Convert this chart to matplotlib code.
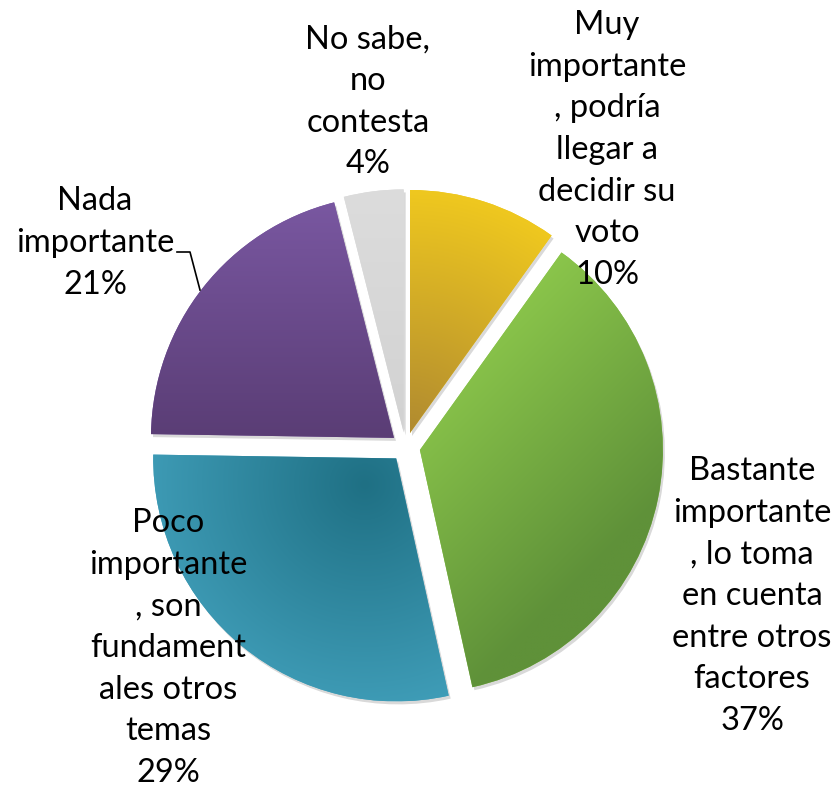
import numpy as np
import matplotlib.pyplot as plt
import matplotlib.patches as mpatches
from matplotlib.colors import to_rgb

# slices, clockwise from 12 o'clock
labels = [
    "Muy\nimportante\n, podría\nllegar a\ndecidir su\nvoto",
    "Bastante\nimportante\n, lo toma\nen cuenta\nentre otros\nfactores",
    "Poco\nimportante\n, son\nfundament\nales otros\ntemas",
    "Nada\nimportante",
    "No sabe,\nno\ncontesta",
]
values = [10, 37, 29, 21, 4]
pct_labels = ["10%", "37%", "29%", "21%", "4%"]

# (light, dark) colour pairs and gradient kind for each slice
light = ["#EFC81F", "#8BC64B", "#45A5C1", "#7A58A2", "#DCDCDC"]
dark = ["#B08A30", "#5F9139", "#1F7084", "#5A3D75", "#D2D2D2"]
grad_kind = ["radial_apex", "diagonal", "radial_spot", "vertical", "vertical"]

W, H = 837, 792
fig = plt.figure(figsize=(W / 100, H / 100), dpi=100)
ax = fig.add_axes([0, 0, 1, 1])

radius = 243
center = (405.5, H - 447)
wedges, _ = ax.pie(values, startangle=90, counterclock=False,
                   radius=radius, center=center, explode=[14.7] * len(values),
                   colors=light, wedgeprops=dict(linewidth=0))
ax.set_xlim(0, W)
ax.set_ylim(0, H)
ax.set_aspect("equal")
ax.axis("off")


def gradient_image(w, kind, c_light, c_dark, n=400):
    cx, cy = w.center
    r = w.r
    xs = np.linspace(cx - r, cx + r, n)
    ys = np.linspace(cy - r, cy + r, n)
    X, Y = np.meshgrid(xs, ys)
    if kind == "vertical":
        t = (cy + r - Y) / r
    elif kind == "radial_apex":
        t = 1 - np.hypot(X - cx, Y - cy) / r
    elif kind == "diagonal":
        t = ((X - cx) - (Y - cy) + 0.25 * r) / (1.45 * r)
    else:  # dark spot near the top right of the slice, lighter outwards
        t = 1 - np.hypot(X - 365, Y - (H - 485)) / 270
    t = np.clip(t, 0, 1)[..., None]
    a = np.array(to_rgb(c_light))
    b = np.array(to_rgb(c_dark))
    return a * (1 - t) + b * t, [cx - r, cx + r, cy - r, cy + r]


for w, kind, cl, cd in zip(wedges, grad_kind, light, dark):
    shadow = mpatches.Wedge((w.center[0] + 2, w.center[1] - 3), w.r,
                            w.theta1, w.theta2, facecolor="black",
                            alpha=0.15, linewidth=0, zorder=0.5)
    ax.add_patch(shadow)
    img, ext = gradient_image(w, kind, cl, cd)
    im = ax.imshow(img, extent=ext, origin="lower", zorder=2,
                   interpolation="bilinear")
    im.set_clip_path(w)

# label positions (block centres)
label_x = [607, 752, 168, 95, 368]
label_y = [150, 596, 648, 243, 102]
for lab, pct, x, y in zip(labels, pct_labels, label_x, label_y):
    ax.text(x, H - y, lab + "\n" + pct, ha="center", va="center",
            multialignment="center", fontsize=23.5, family="Lato",
            linespacing=1.48, color="black", zorder=5)

# leader line for "Nada importante"
ax.plot([177, 190, 200], [H - 252, H - 252, H - 290], color="black",
        lw=1.2, zorder=5)

fig.savefig("out.png", dpi=100)
